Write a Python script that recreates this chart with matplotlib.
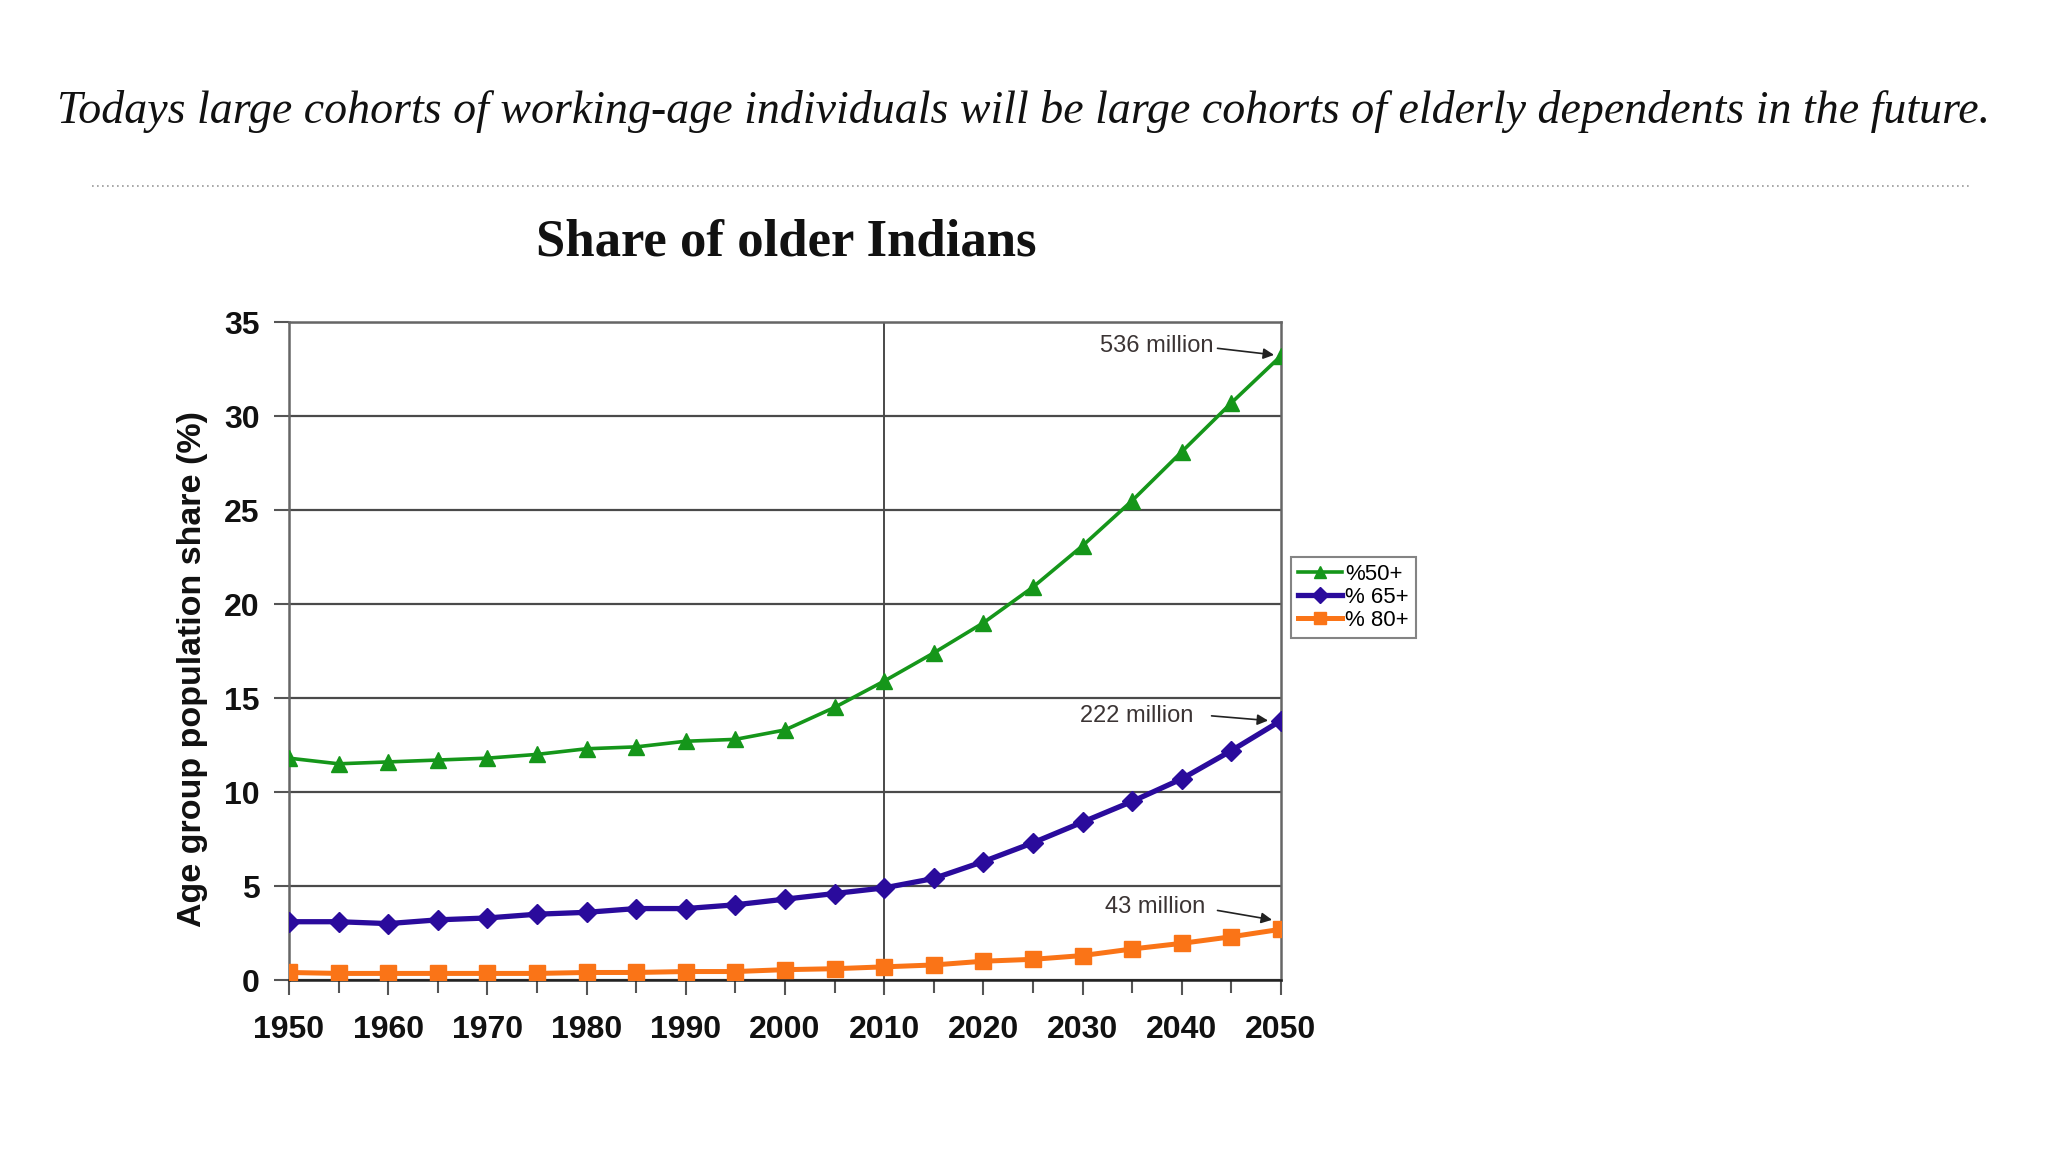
import matplotlib
matplotlib.use("Agg")
import matplotlib.pyplot as plt
from matplotlib.lines import Line2D
from matplotlib.ticker import MultipleLocator

years = list(range(1950, 2051, 5))
share_50 = [11.8, 11.5, 11.6, 11.7, 11.8, 12.0, 12.3, 12.4, 12.7, 12.8, 13.3,
            14.5, 15.9, 17.4, 19.0, 20.9, 23.1, 25.5, 28.1, 30.7, 33.2]
share_65 = [3.1, 3.1, 3.0, 3.2, 3.3, 3.5, 3.6, 3.8, 3.8, 4.0, 4.3,
            4.6, 4.9, 5.4, 6.3, 7.3, 8.4, 9.5, 10.7, 12.2, 13.8]
share_80 = [0.4, 0.35, 0.35, 0.35, 0.35, 0.35, 0.4, 0.4, 0.45, 0.45, 0.55,
            0.6, 0.7, 0.8, 1.0, 1.1, 1.3, 1.65, 1.95, 2.3, 2.7]
labels = ["%50+", "% 65+", "% 80+"]
notes = ["536 million", "222 million", "43 million"]

GREEN = "#15961a"
BLUE = "#2a0b9c"
ORANGE = "#fa7417"
GRID = "#4a4a4a"

fig = plt.figure(figsize=(20.48, 11.52), dpi=100)
fig.patch.set_facecolor("white")

fig.text(0.5, 0.903,
         "Todays large cohorts of working-age individuals will be large cohorts of elderly dependents in the future.",
         ha="center", va="center", fontsize=33, style="italic",
         family="Liberation Serif", color="#111111")
fig.add_artist(Line2D([92 / 2048, 1970 / 2048], [1 - 186 / 1152] * 2,
                      linestyle=(0, (1, 2)), color="#9a9a9a", lw=1.2))
fig.text(786 / 2048, 1 - 243 / 1152, "Share of older Indians", ha="center",
         va="center", fontsize=38, weight="bold", family="Liberation Serif",
         color="#111111")

ax = fig.add_axes([289 / 2048, 172 / 1152, 992 / 2048, 658 / 1152])
ax.plot(years, share_50, color=GREEN, lw=2.6, marker="^", ms=11,
        label=labels[0], zorder=3)
ax.plot(years, share_65, color=BLUE, lw=3.8, marker="D", ms=10,
        label=labels[1], zorder=3)
ax.plot(years, share_80, color=ORANGE, lw=3.6, marker="s", ms=11,
        label=labels[2], zorder=3)

ax.set_xlim(1950, 2050)
ax.set_ylim(0, 35)
ax.yaxis.set_major_locator(MultipleLocator(5))
ax.xaxis.set_major_locator(MultipleLocator(10))
ax.xaxis.set_minor_locator(MultipleLocator(5))
ax.grid(axis="y", color=GRID, lw=1.6, zorder=1)
ax.axvline(2010, color=GRID, lw=1.4, zorder=1)
for s in ax.spines.values():
    s.set_color("#666666")
    s.set_linewidth(1.8)
ax.spines["bottom"].set_color("#222222")
ax.tick_params(axis="both", which="both", direction="out", colors="#555555",
               width=1.5, labelcolor="#111111")
ax.tick_params(axis="x", which="major", length=11, pad=14, labelsize=23)
ax.tick_params(axis="x", which="minor", length=9)
ax.tick_params(axis="y", length=11, pad=10, labelsize=23)
for t in ax.get_xticklabels() + ax.get_yticklabels():
    t.set_fontweight("bold")
    t.set_family("Liberation Sans")
ax.set_ylabel("Age group population share (%)", fontsize=24.5, weight="bold",
              family="Liberation Sans", color="#111111")
ax.yaxis.set_label_coords(-0.082, 0.473)

# text anchor (right end), arrow start, arrow tip
ann = [((2043.2, 33.75), (2043.6, 33.6), (2049.3, 33.25)),
       ((2041.2, 14.05), (2043.0, 14.05), (2048.7, 13.8)),
       ((2042.4, 3.9), (2043.6, 3.7), (2049.1, 3.2))]
for (txt, start, tip), note in zip(ann, notes):
    ax.text(txt[0], txt[1], note, ha="right", va="center", fontsize=17,
            family="Liberation Sans", color="#3b3434")
    ax.annotate("", xy=tip, xytext=start,
                arrowprops=dict(arrowstyle="-|>", color="#222222", lw=1.2,
                                mutation_scale=16, shrinkA=0, shrinkB=0))

leg = ax.legend(loc="upper left", bbox_to_anchor=(1291 / 2048, 1 - 557 / 1152),
                bbox_transform=fig.transFigure, frameon=True,
                fancybox=False, handlelength=2.0, handletextpad=0.15,
                borderpad=0.3, labelspacing=0.1, borderaxespad=0,
                prop={"family": "Liberation Sans", "size": 16})
leg.get_frame().set_edgecolor("#666666")
leg.get_frame().set_linewidth(1.5)
for h in leg.legend_handles:
    h.set_markersize(8)

fig.savefig("out.png", dpi=100, facecolor="white")
